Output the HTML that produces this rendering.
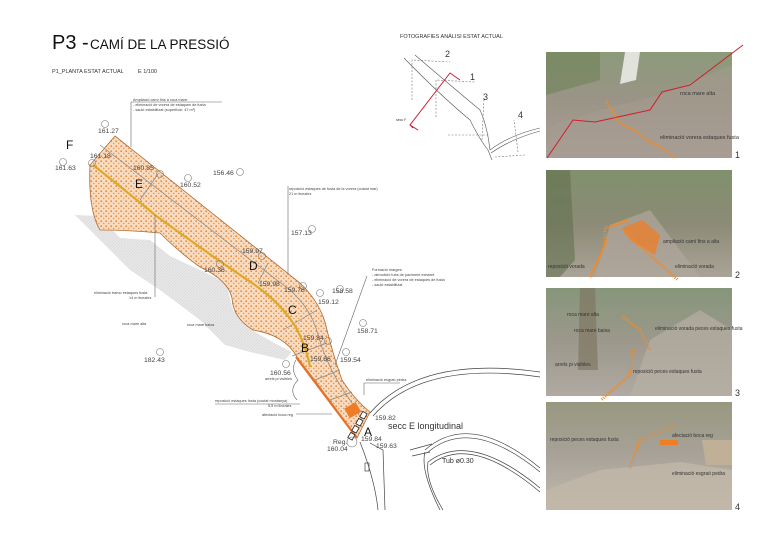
<!DOCTYPE html>
<html><head><meta charset="utf-8"><style>
html,body{margin:0;padding:0;background:#fff;}
body{width:780px;height:555px;overflow:hidden;font-family:"Liberation Sans",sans-serif;}
svg text{font-family:"Liberation Sans",sans-serif;}
</style></head><body>
<svg width="780" height="555" viewBox="0 0 780 555" xmlns="http://www.w3.org/2000/svg">
<defs>
<pattern id="dots" width="5" height="5" patternUnits="userSpaceOnUse">
<rect width="5" height="5" fill="#f9dcc0"/>
<circle cx="1.2" cy="1.2" r="0.9" fill="#e08a45"/>
<circle cx="3.7" cy="3.4" r="0.8" fill="#e59a5c"/>
</pattern>
<pattern id="hatch" width="3" height="3" patternUnits="userSpaceOnUse">
<rect width="3" height="3" fill="#e8e8e8"/><line x1="0" y1="3" x2="3" y2="0" stroke="#d6d6d6" stroke-width="0.6"/>
</pattern>
<linearGradient id="p1" x1="0" y1="0" x2="0" y2="1"><stop offset="0" stop-color="#8c9a7a"/><stop offset="0.45" stop-color="#9a9486"/><stop offset="1" stop-color="#a89f96"/></linearGradient>
<linearGradient id="p2" x1="0" y1="0" x2="0" y2="1"><stop offset="0" stop-color="#80906c"/><stop offset="0.5" stop-color="#8c8b76"/><stop offset="1" stop-color="#aaa398"/></linearGradient>
<linearGradient id="p3" x1="0" y1="0" x2="0" y2="1"><stop offset="0" stop-color="#86967a"/><stop offset="0.5" stop-color="#9c988c"/><stop offset="1" stop-color="#b0aaa2"/></linearGradient>
<linearGradient id="p4" x1="0" y1="0" x2="0" y2="1"><stop offset="0" stop-color="#989880"/><stop offset="0.5" stop-color="#a8a298"/><stop offset="1" stop-color="#c0bab0"/></linearGradient>
</defs>

<text x="52" y="49" font-size="20" fill="#111">P3 - </text>
<text x="90" y="49" font-size="13.5" fill="#111">CAMÍ DE LA PRESSIÓ</text>
<text x="52" y="73" font-size="5.5" fill="#333">P1_PLANTA ESTAT ACTUAL</text>
<text x="138" y="73" font-size="5.5" fill="#333">E 1/100</text>

<path d="M75,215 L100,216 L120,238 L150,240 L170,256 L200,270 L226,283 L233,310 L255,332 L278,345 L292,352 L285,360 L250,352 L225,345 L200,320 L160,290 L130,270 L100,240 Z" fill="url(#hatch)"/>

<path d="M115,136 L300,283 Q318,300 325,322 Q333,355 342,380 Q355,400 370,412 L357,438 Q330,400 297,357 Q285,335 253,330 Q233,318 232,298 Q228,280 200,267 Q180,253 160,233 Q130,230 100,230 Q88,210 90,165 Z" fill="url(#dots)" stroke="#b26a2e" stroke-width="0.8"/>
<path d="M100,145 L290,290 Q312,310 318,335 Q328,370 350,400 L362,420" fill="none" stroke="#888" stroke-width="0.7"/>
<g stroke="#888" stroke-width="0.7">
<line x1="158" y1="174" x2="140" y2="200"/><line x1="268" y1="263" x2="258" y2="283"/>
<line x1="317" y1="310" x2="283" y2="330"/><line x1="327" y1="343" x2="292" y2="356"/>
<line x1="340" y1="370" x2="315" y2="380"/><line x1="352" y1="392" x2="330" y2="400"/>
</g>
<path d="M93,165 Q125,190 155,215 Q210,255 255,285 Q290,310 302,340 Q308,355 310,367" fill="none" stroke="#e0a825" stroke-width="2.2"/>
<path d="M296,357 L357,438" stroke="#e8702a" stroke-width="2.2"/>
<rect x="346" y="405" width="13" height="11" fill="#ef7d26" transform="rotate(-30 352 410)"/>
<g fill="#fff" stroke="#222" stroke-width="0.8">
<rect x="361" y="412" width="5" height="6" transform="rotate(30 363 415)"/>
<rect x="357" y="419" width="5" height="6" transform="rotate(30 359 422)"/>
<rect x="353" y="426" width="5" height="6" transform="rotate(30 355 429)"/>
<rect x="349" y="433" width="5" height="6" transform="rotate(30 351 436)"/>
</g>

<g fill="none" stroke="#444" stroke-width="0.7">
<path d="M370,413 Q420,355 540,372"/><path d="M373,416 Q422,360 540,377"/>
<path d="M370,443 L383,450 L385,510"/><path d="M360,442 Q375,480 378,510"/>
<path d="M425,450 Q470,410 540,468"/><path d="M427,453 Q470,415 540,472"/>
<path d="M428,462 Q470,430 540,488"/><path d="M430,465 Q470,433 540,492"/>
<path d="M425,452 Q420,470 440,510"/><path d="M428,462 Q425,480 443,510"/>
<path d="M410,450 L432,444 M412,456 L430,452"/>
<rect x="365" y="463" width="4" height="8"/>
</g>

<g fill="none" stroke="#777" stroke-width="0.6">
<circle cx="105" cy="124" r="3.5"/><circle cx="63" cy="162" r="3.5"/><circle cx="92" cy="163" r="3.5"/>
<circle cx="160" cy="174" r="3.5"/><circle cx="188" cy="178" r="3.5"/><circle cx="240" cy="172" r="3.5"/>
<circle cx="312" cy="229" r="3.5"/><circle cx="262" cy="256" r="3.5"/><circle cx="220" cy="264" r="3.5"/>
<circle cx="303" cy="286" r="3.5"/><circle cx="320" cy="293" r="3.5"/><circle cx="340" cy="289" r="3.5"/>
<circle cx="363" cy="323" r="3.5"/><circle cx="328" cy="341" r="3.5"/><circle cx="346" cy="352" r="3.5"/>
<circle cx="286" cy="364" r="3.5"/><circle cx="160" cy="352" r="3.5"/><circle cx="352" cy="442" r="5"/>
</g>
<g font-size="6.8" fill="#444">
<text x="98" y="133">161.27</text><text x="55" y="170">161.63</text><text x="90" y="158">161.18</text>
<text x="133" y="170">160.85</text><text x="180" y="187">160.52</text><text x="213" y="175">156.46</text>
<text x="291" y="235">157.13</text><text x="242" y="253">159.97</text><text x="204" y="272">160.36</text>
<text x="259" y="286">159.98</text><text x="284" y="292">159.76</text><text x="318" y="304">159.12</text>
<text x="332" y="293">158.58</text>
<text x="357" y="333">158.71</text><text x="303" y="340">159.84</text><text x="310" y="361">159.86</text>
<text x="340" y="362">159.54</text><text x="270" y="375">160.56</text><text x="144" y="362">182.43</text>
<text x="375" y="420">159.82</text><text x="361" y="441">159.84</text><text x="376" y="448">159.63</text>
<text x="333" y="444">Reg.</text><text x="327" y="451">160.04</text>
</g>
<g font-size="12" fill="#111">
<text x="66" y="149">F</text><text x="135" y="188">E</text><text x="249" y="270">D</text>
<text x="288" y="314">C</text><text x="301" y="352">B</text><text x="364" y="436">A</text>
</g>
<text x="388" y="429" font-size="9" fill="#333">secc E longitudinal</text>
<text x="442" y="463" font-size="7" fill="#333">Tub  ø0.30</text>

<g fill="none" stroke="#666" stroke-width="0.6">
<path d="M131,147 L131,102 L222,102"/>
<path d="M288,275 L288,186"/>
<path d="M155,215 L155,297"/>
<path d="M367,276 L335,365"/>
<path d="M364,395 L364,383 L400,383"/>
<path d="M215,404 L300,404"/>
<path d="M296,414 L332,414"/>
<path d="M296,360 Q290,370 298,380 Q288,390 297,400"/>
</g>
<g font-size="3.8" fill="#444">
<text x="133" y="101">Ampliació camí fins a roca mare:</text>
<text x="133" y="106">- eliminació de vorera de estaques de fusta</text>
<text x="133" y="111">- sauló estabilitzat (superfície: 47 m²)</text>
<text x="289" y="190">reposició estaques de fusta de la vorera (costat mar)</text>
<text x="289" y="195">21 m lineales</text>
<text x="94" y="294">eliminació tramo estaques fusta</text>
<text x="129" y="299">14 m lineales</text>
<text x="122" y="325">roca mare alta</text><text x="187" y="326">roca mare baixa</text>
<text x="372" y="271">Formació marges:</text>
<text x="372" y="276">- demolició tubs de paviment existent</text>
<text x="372" y="281">- eliminació de vorera de estaques de fusta</text>
<text x="372" y="286">- sauló estabilitzat</text>
<text x="366" y="381">eliminació esgraó pedra</text>
<text x="265" y="380">arrels pi visibles</text>
<text x="215" y="402">reposició estaques fusta (costat montanya)</text>
<text x="268" y="407">5,5 m lineales</text>
<text x="262" y="416">afectació boca reg</text>
</g>

<text x="400" y="38" font-size="5.5" fill="#333">FOTOGRAFIES ANÀLISI  ESTAT ACTUAL</text>
<g fill="none" stroke="#555" stroke-width="0.6">
<path d="M404,58 Q440,95 470,120 Q480,140 488,150 L492,160"/>
<path d="M415,55 Q450,85 480,110 Q487,125 490,150"/>
<path d="M490,150 Q510,135 540,128"/><path d="M491,153 Q511,139 540,131"/>
</g>
<g fill="none" stroke="#777" stroke-width="0.6" stroke-dasharray="2,1.5">
<path d="M412,100 L412,60 L450,62"/><path d="M436,117 L436,80 L475,82"/>
<path d="M482,140 L484,98"/><path d="M448,135 L490,135"/><path d="M518,152 L514,120"/><path d="M495,157 L525,155"/>
</g>
<path d="M413,128 L410,125 L450,73 L460,80" fill="none" stroke="#cc2030" stroke-width="1"/>
<path d="M410,125 L418,130" stroke="#cc2030" stroke-width="1"/>
<g font-size="9" fill="#333"><text x="445" y="57">2</text><text x="470" y="80">1</text><text x="483" y="100">3</text><text x="518" y="118">4</text></g>
<text x="396" y="121" font-size="3.5" fill="#333">secc F</text>

<rect x="546" y="52" width="186" height="106" fill="url(#p1)"/>
<path d="M546,52 L600,52 L600,80 L546,95 Z" fill="#6f8258" opacity="0.6"/>
<path d="M625,52 L640,52 L636,80 L620,84 Z" fill="#eeeeec" opacity="0.85"/>
<path d="M546,158 L552,125 L600,110 L660,95 L732,65 L732,158 Z" fill="#a89c92" opacity="0.5"/>
<path d="M547,158 L573,120 L595,122 L650,110 L662,92 L690,85 L743,45" fill="none" stroke="#d0202a" stroke-width="1"/>
<path d="M606,101 L617,120 L675,157" fill="none" stroke="#f08a2a" stroke-width="3" stroke-dasharray="1,1.2"/>
<text x="680" y="95" font-size="5.5" fill="#333">roca mare alta</text>
<text x="660" y="139" font-size="5.5" fill="#333">eliminació vorera estaques fusta</text>

<rect x="546" y="170" width="186" height="107" fill="url(#p2)"/>
<path d="M546,170 L570,170 L575,260 L560,277 L546,277 Z" fill="#5f6e4a" opacity="0.55"/>
<path d="M595,277 L610,225 L650,210 L700,277 Z" fill="#b0a69c" opacity="0.7"/>
<path d="M590,277 L605,245 L605,228 L630,220" fill="none" stroke="#f08a2a" stroke-width="3" stroke-dasharray="1,1.2"/>
<path d="M622,228 L642,220 L660,235 L655,255 L630,240 Z" fill="#ef7d26" opacity="0.75"/>
<path d="M624,232 L650,255 L678,280" fill="none" stroke="#f08a2a" stroke-width="3" stroke-dasharray="1,1.2"/>
<text x="663" y="243" font-size="5" fill="#333">ampliació camí fins a alta</text>
<text x="548" y="268" font-size="5" fill="#333">reposició vorada</text>
<text x="675" y="268" font-size="5" fill="#333">eliminació vorada</text>

<rect x="546" y="288" width="186" height="108" fill="url(#p3)"/>
<path d="M580,288 L595,288 L598,370 L578,370 Z" fill="#7e7560" opacity="0.65"/>
<path d="M630,396 L650,340 L700,310 L732,330 L732,396 Z" fill="#b6afa4" opacity="0.7"/>
<path d="M622,316 L640,330 L650,350" fill="none" stroke="#f08a2a" stroke-width="3" stroke-dasharray="1,1.2"/>
<path d="M633,350 L630,375 L601,400" fill="none" stroke="#f08a2a" stroke-width="3" stroke-dasharray="1,1.2"/>
<text x="567" y="316" font-size="5" fill="#333">roca mare alta</text>
<text x="574" y="332" font-size="5" fill="#333">roca mare baixa</text>
<text x="555" y="366" font-size="5" fill="#333">arrels pi visibles</text>
<text x="633" y="373" font-size="5" fill="#333">reposició peces estaques fusta</text>
<text x="655" y="330" font-size="5" fill="#333">eliminació vorada peces estaques fusta</text>

<rect x="546" y="402" width="186" height="108" fill="url(#p4)"/>
<path d="M546,490 L600,470 L680,462 L732,470 L732,510 L546,510 Z" fill="#c2b8a8" opacity="0.8"/>
<path d="M702,440 L732,440 L732,465 L706,465 Z" fill="#c0b098"/>
<path d="M630,468 L640,440 L675,425" fill="none" stroke="#f08a2a" stroke-width="3" stroke-dasharray="1,1.2"/>
<rect x="660" y="440" width="18" height="5" fill="#ef7d26"/>
<text x="550" y="441" font-size="5" fill="#333">reposició peces estaques fusta</text>
<text x="672" y="437" font-size="5" fill="#333">afectació boca reg</text>
<text x="672" y="475" font-size="5" fill="#333">eliminació esgraó pedra</text>

<g font-size="9" fill="#333"><text x="735" y="158">1</text><text x="735" y="278">2</text><text x="735" y="396">3</text><text x="735" y="510">4</text></g>
</svg>
</body></html>
